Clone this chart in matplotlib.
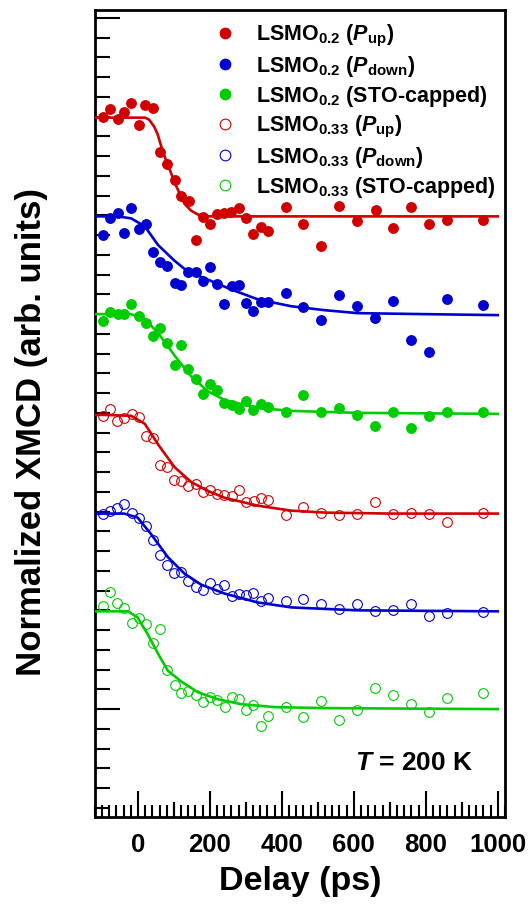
"""
Normalized XMCD vs delay for LSMO films, filled = LSMO0.2, open = LSMO0.33.
"""
import matplotlib
matplotlib.use('Agg')
import matplotlib.pyplot as plt
from matplotlib.ticker import MultipleLocator, FixedLocator

plt.rcParams['font.family'] = ['Liberation Sans', 'DejaVu Sans']
plt.rcParams['font.weight'] = 'bold'
plt.rcParams['mathtext.fontset'] = 'custom'
plt.rcParams['mathtext.rm'] = 'Liberation Sans:bold'
plt.rcParams['mathtext.it'] = 'Liberation Sans:bold:italic'
plt.rcParams['mathtext.bf'] = 'Liberation Sans:bold'

RED = '#d00000'
BLUE = '#0000d0'
GREEN = '#00cc00'

# --- LSMO0.2 (P_up), filled red ---
red_f_x = [-98, -78, -56, -38, -19, 4, 19, 43, 61, 82, 103, 119, 143, 161, 181, 200,
           221, 240, 258, 282, 300, 320, 342, 362, 411, 460, 510, 559, 610, 661, 710,
           760, 809, 860, 960]
red_f_y = [6.00, 6.08, 5.98, 6.05, 6.14, 5.92, 6.12, 6.09, 5.64, 5.52, 5.36, 5.20, 5.15,
           4.75, 4.98, 4.91, 5.01, 5.02, 5.03, 5.07, 4.97, 4.81, 4.88, 4.84, 5.08, 4.91,
           4.69, 5.10, 4.94, 5.05, 4.87, 5.09, 4.91, 4.95, 4.95]
red_f_fit_x = [-117, 20, 31, 45, 55, 64, 73, 82, 92, 101, 115, 129, 147, 166, 184, 220, 1000]
red_f_fit_y = [5.99, 5.99, 5.97, 5.90, 5.82, 5.71, 5.61, 5.52, 5.43, 5.34, 5.23, 5.12,
               5.05, 5.01, 4.99, 4.99, 4.99]

# --- LSMO0.2 (P_down), filled blue ---
blue_f_x = [-98, -78, -56, -38, -19, 4, 22, 41, 61, 82, 103, 121, 140, 161, 181, 201,
            221, 240, 261, 281, 300, 320, 342, 362, 411, 460, 510, 559, 610, 659, 710,
            760, 809, 860, 960]
blue_f_y = [4.80, 4.97, 5.02, 4.82, 5.07, 4.86, 4.91, 4.63, 4.53, 4.49, 4.32, 4.30, 4.43,
            4.43, 4.34, 4.48, 4.31, 4.10, 4.28, 4.30, 4.11, 4.03, 4.12, 4.12, 4.21, 4.07,
            3.94, 4.19, 4.08, 3.96, 4.13, 3.74, 3.62, 4.15, 4.09]
blue_f_fit_x = [-117, -98, -56, -19, 19, 56, 102, 139, 194, 259, 333, 426, 519, 611, 796, 1000]
blue_f_fit_y = [4.99, 4.99, 4.99, 4.97, 4.89, 4.70, 4.54, 4.43, 4.35, 4.25, 4.15, 4.08,
                4.04, 4.01, 4.00, 3.99]

# --- LSMO0.2 (STO-capped), filled green ---
green_f_x = [-98, -78, -56, -38, -19, 4, 22, 41, 61, 82, 103, 121, 140, 161, 181, 201,
             221, 240, 261, 281, 300, 320, 342, 362, 411, 460, 510, 559, 610, 659, 710,
             760, 809, 860, 960]
green_f_y = [3.93, 4.02, 4.00, 4.00, 4.10, 3.98, 3.91, 3.78, 3.86, 3.71, 3.48, 3.69, 3.44,
             3.34, 3.19, 3.29, 3.23, 3.10, 3.08, 3.04, 3.12, 3.03, 3.09, 3.06, 3.01, 3.18,
             3.01, 3.05, 2.98, 2.87, 3.01, 2.85, 2.97, 3.01, 3.01]
green_f_fit_x = [-117, -19, 19, 56, 102, 148, 194, 241, 333, 426, 611, 1000]
green_f_fit_y = [4.00, 4.00, 3.95, 3.81, 3.58, 3.37, 3.22, 3.13, 3.05, 3.02, 3.00, 2.99]

# --- LSMO0.33 (P_up), open red ---
red_o_x = [-98, -78, -58, -38, -17, 4, 22, 41, 61, 80, 100, 121, 140, 161, 181, 201,
           221, 240, 261, 281, 300, 323, 342, 362, 411, 460, 510, 559, 610, 659, 710,
           760, 809, 860, 960]
red_o_y = [2.97, 3.04, 2.92, 2.95, 2.99, 2.96, 2.77, 2.75, 2.47, 2.45, 2.32, 2.31, 2.26,
           2.28, 2.20, 2.22, 2.18, 2.17, 2.16, 2.22, 2.10, 2.11, 2.14, 2.12, 1.97, 2.05,
           1.99, 1.97, 1.98, 2.10, 1.98, 1.99, 1.98, 1.89, 1.99]
red_o_fit_x = [-117, -98, -19, 19, 37, 56, 102, 148, 194, 241, 333, 426, 519, 704, 1000]
red_o_fit_y = [2.98, 2.98, 2.97, 2.89, 2.79, 2.68, 2.45, 2.30, 2.21, 2.14, 2.06, 2.01,
               1.99, 1.98, 1.98]

# --- LSMO0.33 (P_down), open blue ---
blue_o_x = [-98, -78, -58, -38, -17, 4, 23, 41, 61, 80, 100, 121, 140, 161, 181, 201,
            221, 240, 261, 281, 300, 320, 342, 362, 411, 460, 510, 559, 610, 659, 710,
            760, 809, 860, 960]
blue_o_y = [1.98, 2.01, 2.04, 2.08, 1.99, 1.94, 1.85, 1.71, 1.56, 1.46, 1.38, 1.39, 1.30,
            1.24, 1.21, 1.28, 1.22, 1.26, 1.15, 1.17, 1.16, 1.18, 1.09, 1.13, 1.09, 1.12,
            1.06, 1.01, 1.06, 0.99, 1.00, 1.06, 0.94, 0.97, 0.98]
blue_o_fit_x = [-117, -38, -1, 37, 83, 130, 176, 241, 333, 426, 611, 1000]
blue_o_fit_y = [1.98, 1.98, 1.94, 1.77, 1.54, 1.37, 1.26, 1.17, 1.08, 1.03, 1.00, 0.99]

# --- LSMO0.33 (STO-capped), open green ---
green_o_x = [-98, -78, -58, -38, -17, 2, 22, 42, 61, 82, 103, 121, 140, 161, 181, 201,
             221, 242, 261, 281, 300, 320, 342, 362, 411, 460, 510, 559, 610, 659, 710,
             760, 809, 860, 960]
green_o_y = [1.04, 1.19, 1.07, 1.02, 0.87, 0.92, 0.86, 0.67, 0.81, 0.40, 0.24, 0.16, 0.18,
             0.14, 0.07, 0.12, 0.09, 0.02, 0.12, 0.10, -0.01, 0.04, -0.17, -0.07, 0.02,
             -0.08, 0.08, -0.11, -0.01, 0.21, 0.14, 0.05, -0.03, 0.11, 0.16]
green_o_fit_x = [-117, -28, -1, 27, 56, 83, 120, 167, 222, 287, 380, 519, 1000]
green_o_fit_y = [0.99, 0.99, 0.93, 0.76, 0.56, 0.39, 0.28, 0.17, 0.10, 0.05, 0.02, 0.01, 0.00]

labels = [r'LSMO$_{0.2}$ ($P_{\mathrm{up}}$)',
          r'LSMO$_{0.2}$ ($P_{\mathrm{down}}$)',
          r'LSMO$_{0.2}$ (STO-capped)',
          r'LSMO$_{0.33}$ ($P_{\mathrm{up}}$)',
          r'LSMO$_{0.33}$ ($P_{\mathrm{down}}$)',
          r'LSMO$_{0.33}$ (STO-capped)']

fig = plt.figure(figsize=(5.28, 9.1), dpi=100)
ax = fig.add_axes([0.1794, 0.1025, 0.777, 0.8865])

series = [
    (red_f_x, red_f_y, red_f_fit_x, red_f_fit_y, RED, True),
    (blue_f_x, blue_f_y, blue_f_fit_x, blue_f_fit_y, BLUE, True),
    (green_f_x, green_f_y, green_f_fit_x, green_f_fit_y, GREEN, True),
    (red_o_x, red_o_y, red_o_fit_x, red_o_fit_y, RED, False),
    (blue_o_x, blue_o_y, blue_o_fit_x, blue_o_fit_y, BLUE, False),
    (green_o_x, green_o_y, green_o_fit_x, green_o_fit_y, GREEN, False),
]

for (x, y, fx, fy, color, filled), label in zip(series, labels):
    if filled:
        ax.plot(x, y, 'o', ms=6.8, color=color, mec=color, label=label, zorder=3)
    else:
        ax.plot(x, y, 'o', ms=7.0, mfc='none', mec=color, mew=0.8, label=label, zorder=3)
    ax.plot(fx, fy, '-', color=color, lw=1.9, zorder=4)

ax.set_xlim(-120, 1020)
ax.set_ylim(-1.09, 7.08)

ax.xaxis.set_major_locator(MultipleLocator(200))
ax.xaxis.set_minor_locator(MultipleLocator(20))
ax.yaxis.set_major_locator(FixedLocator([0, 7]))
ax.yaxis.set_minor_locator(MultipleLocator(0.2))
ax.set_yticklabels([])

ax.tick_params(axis='x', which='major', direction='in', length=19, width=1.5,
               labelsize=18.5, pad=12)
ax.tick_params(axis='x', which='minor', direction='in', length=9, width=1.5)
ax.tick_params(axis='y', which='major', direction='in', length=18, width=1.5)
ax.tick_params(axis='y', which='minor', direction='in', length=11, width=1.5)
for s in ax.spines.values():
    s.set_linewidth(2)

# medium ticks at the odd hundreds
for xm in [100, 300, 500, 700, 900]:
    ax.plot([xm, xm], [-1.09, -1.09 + 0.135], color='black', lw=1.5,
            clip_on=False, zorder=5)

ax.set_xlabel('Delay (ps)', fontsize=24.5, fontweight='bold', labelpad=6)
ax.set_ylabel('Normalized XMCD (arb. units)', fontsize=25, fontweight='bold', labelpad=30)
ax.yaxis.label.set_y(0.477)

ax.text(0.922, 0.067, r'$T$ = 200 K', transform=ax.transAxes, ha='right', va='center',
        fontsize=19, fontweight='bold')

ax.legend(loc='upper left', bbox_to_anchor=(0.265, 1.0), frameon=False, fontsize=15.5,
          handlelength=0.8, handletextpad=1.04, labelspacing=0.23, borderpad=0.1,
          markerscale=1.1)

plt.savefig('out.png', dpi=100)
